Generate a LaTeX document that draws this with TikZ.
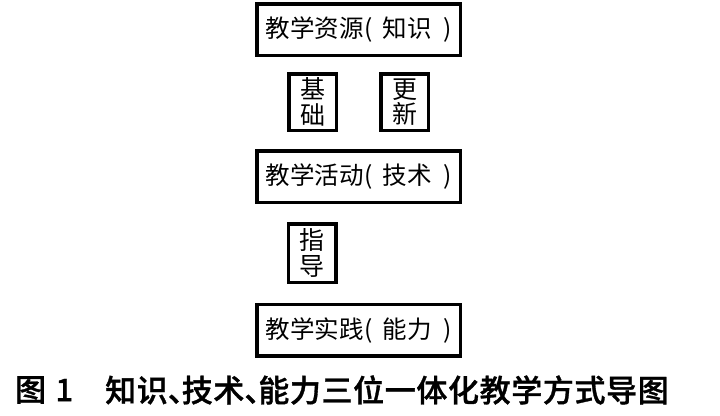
\documentclass[tikz,border=0pt]{standalone}
\usepackage{fontspec}
\newfontfamily\cjk{Noto Sans CJK SC}
\newfontfamily\cjkm[FakeBold=1,LetterSpace=2]{Noto Sans CJK SC Medium}
\begin{document}
\begin{tikzpicture}[x=1pt,y=-1pt,
  bigbox/.style={draw=black,line width=3.5pt,minimum width=203.5pt,minimum height=51.5pt,inner sep=0pt,font=\cjk\fontsize{24.5}{28}\selectfont},
  smallbox/.style={draw=black,line width=3.5pt,minimum width=47.5pt,minimum height=56.5pt,inner sep=0pt,align=center,font=\cjk\fontsize{25}{25.5}\selectfont},
  captxt/.style={inner sep=0pt,font=\cjkm\fontsize{31}{34}\selectfont}]
\useasboundingbox[fill=white] (0,0) rectangle (720,415);
\node[bigbox] (res) at (358.5,29.5) {教学资源\hspace{0.05em}(\hspace{0.4em}知识\hspace{0.45em})};
\node[smallbox] (jc) at (312.5,102) {基\\础};
\node[smallbox] (gx) at (404.5,102) {更\\新};
\node[bigbox] (act) at (358.5,176.5) {教学活动\hspace{0.05em}(\hspace{0.4em}技术\hspace{0.45em})};
\node[smallbox,minimum height=58.5pt] (zd) at (312,253) {指\\导};
\node[bigbox] (prac) at (358.5,330) {教学实践\hspace{0.05em}(\hspace{0.4em}能力\hspace{0.45em})};
\node[captxt,anchor=west] (cap1) at (15,390) {图\hspace{0.3em}1};
\node[captxt,anchor=west] (cap2) at (105,390) {知识\makebox[0.45em][l]{、}技术\makebox[0.45em][l]{、}能力三位一体化教学方式导图};
\end{tikzpicture}
\end{document}
